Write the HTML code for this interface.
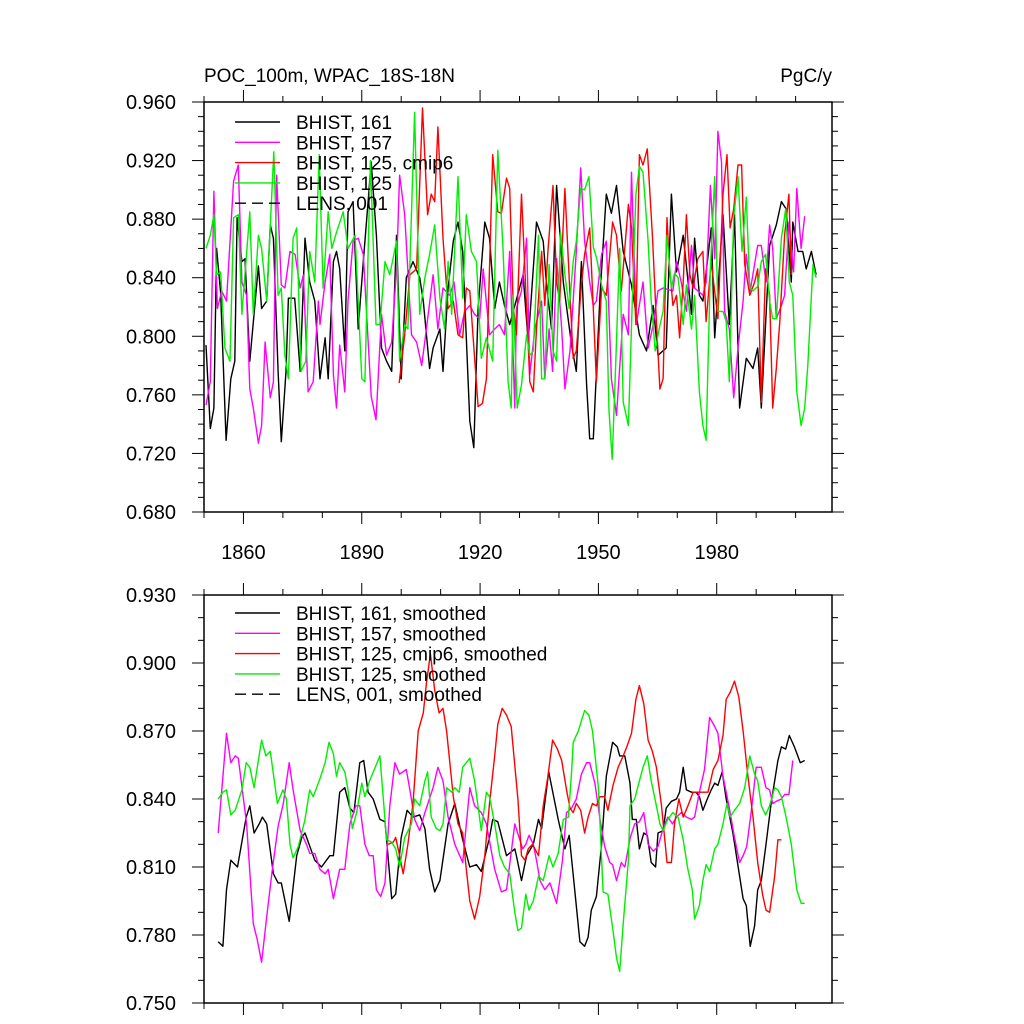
<!DOCTYPE html>
<html><head><meta charset="utf-8"><style>
html,body{margin:0;padding:0;background:#fff;}
svg{display:block;font-family:"Liberation Sans",Arial,sans-serif;}
</style></head><body>
<svg id="chart" width="1024" height="1024" viewBox="0 0 1024 1024"></svg>
<script>
// ---------- DATA ----------
const xTickYears = [1860, 1890, 1920, 1950, 1980];
const topYTicks = ["0.680","0.720","0.760","0.800","0.840","0.880","0.920","0.960"];
const botYTicks = ["0.750","0.780","0.810","0.840","0.870","0.900","0.930"];
const topLegend = ["BHIST, 161","BHIST, 157","BHIST, 125, cmip6","BHIST, 125","LENS, 001"];
const botLegend = ["BHIST, 161, smoothed","BHIST, 157, smoothed","BHIST, 125, cmip6, smoothed","BHIST, 125, smoothed","LENS, 001, smoothed"];

const topBlack = [[1850.5,0.794],[1851.6,0.737],[1852.5,0.751],[1853.2,0.860],[1854.2,0.830],[1855.6,0.729],[1856.8,0.771],[1857.8,0.783],[1858.4,0.881],[1859.6,0.851],[1860.4,0.853],[1861.6,0.783],[1863.8,0.848],[1864.6,0.819],[1865.9,0.824],[1866.8,0.876],[1867.6,0.867],[1868.8,0.776],[1869.6,0.728],[1870.8,0.776],[1871.4,0.826],[1873.0,0.826],[1874.4,0.776],[1875.6,0.867],[1876.8,0.837],[1878.1,0.824],[1879.4,0.771],[1880.7,0.799],[1881.5,0.771],[1882.8,0.851],[1883.6,0.858],[1884.4,0.846],[1885.7,0.790],[1886.5,0.885],[1887.8,0.892],[1889.1,0.805],[1890.4,0.851],[1891.6,0.892],[1892.4,0.919],[1893.7,0.869],[1895.0,0.792],[1896.3,0.783],[1897.6,0.776],[1898.8,0.869],[1900.0,0.771],[1901.3,0.840],[1903.0,0.851],[1904.7,0.840],[1905.6,0.824],[1907.2,0.778],[1908.1,0.792],[1909.8,0.805],[1910.6,0.776],[1911.9,0.833],[1913.2,0.865],[1914.4,0.878],[1915.6,0.858],[1917.4,0.742],[1918.4,0.724],[1919.5,0.819],[1921.2,0.878],[1922.4,0.867],[1923.7,0.819],[1924.9,0.837],[1926.2,0.821],[1927.5,0.808],[1930.9,0.842],[1932.2,0.796],[1934.3,0.878],[1936.0,0.865],[1936.8,0.837],[1938.1,0.805],[1939.4,0.903],[1941.1,0.837],[1943.2,0.794],[1944.4,0.776],[1945.7,0.851],[1947.0,0.767],[1947.8,0.730],[1948.7,0.730],[1950.4,0.828],[1952.0,0.897],[1953.3,0.884],[1954.6,0.903],[1956.3,0.858],[1958.4,0.835],[1960.4,0.801],[1962.2,0.790],[1963.9,0.821],[1965.1,0.787],[1967.2,0.792],[1968.5,0.897],[1969.8,0.844],[1971.5,0.869],[1973.6,0.815],[1974.4,0.867],[1975.6,0.828],[1976.5,0.824],[1978.6,0.874],[1979.5,0.799],[1981.6,0.883],[1983.2,0.808],[1984.5,0.883],[1985.8,0.751],[1987.5,0.785],[1989.2,0.778],[1990.4,0.792],[1991.3,0.751],[1993.4,0.862],[1995.1,0.876],[1996.4,0.892],[1997.6,0.887],[1998.9,0.837],[1999.3,0.878],[2000.6,0.858],[2001.8,0.858],[2002.7,0.846],[2004.0,0.858],[2005.2,0.842]];

const topMagenta = [[1850.5,0.753],[1851.6,0.769],[1852.5,0.899],[1853.4,0.819],[1854.5,0.831],[1855.7,0.824],[1857.5,0.906],[1858.7,0.917],[1859.6,0.837],[1860.8,0.828],[1861.6,0.764],[1862.5,0.751],[1863.8,0.727],[1864.6,0.739],[1865.5,0.796],[1866.8,0.758],[1867.6,0.769],[1868.4,0.910],[1869.6,0.835],[1870.5,0.833],[1871.8,0.858],[1873.1,0.856],[1874.4,0.833],[1875.2,0.842],[1876.4,0.762],[1877.7,0.769],[1879.0,0.824],[1879.4,0.808],[1880.7,0.837],[1881.9,0.856],[1882.8,0.774],[1883.6,0.751],[1884.4,0.794],[1885.7,0.762],[1886.5,0.824],[1887.8,0.865],[1889.1,0.867],[1890.4,0.856],[1892.4,0.759],[1893.6,0.743],[1895.0,0.815],[1896.3,0.787],[1897.6,0.796],[1898.8,0.846],[1899.6,0.910],[1900.9,0.883],[1902.6,0.801],[1903.9,0.796],[1905.2,0.780],[1906.4,0.805],[1908.1,0.842],[1909.3,0.805],[1910.6,0.833],[1912.3,0.828],[1913.4,0.837],[1914.8,0.801],[1916.1,0.817],[1917.4,0.821],[1918.6,0.815],[1919.9,0.812],[1920.8,0.846],[1922.4,0.801],[1923.7,0.805],[1924.9,0.808],[1926.2,0.801],[1927.5,0.858],[1928.8,0.751],[1929.2,0.819],[1930.5,0.831],[1931.8,0.867],[1932.6,0.774],[1933.9,0.805],[1935.6,0.824],[1936.4,0.771],[1937.5,0.805],[1938.4,0.776],[1939.4,0.853],[1940.7,0.805],[1941.5,0.764],[1942.8,0.790],[1944.4,0.858],[1945.5,0.915],[1946.5,0.865],[1947.8,0.837],[1948.7,0.821],[1949.5,0.824],[1950.8,0.856],[1952.0,0.865],[1953.3,0.771],[1954.6,0.746],[1956.3,0.815],[1957.6,0.801],[1958.4,0.912],[1959.6,0.808],[1961.3,0.837],[1962.6,0.792],[1963.9,0.808],[1965.1,0.831],[1966.4,0.833],[1968.9,0.831],[1969.8,0.851],[1971.0,0.837],[1972.3,0.817],[1973.6,0.862],[1974.4,0.833],[1976.5,0.828],[1977.3,0.837],[1978.4,0.903],[1979.5,0.853],[1980.3,0.940],[1981.2,0.919],[1982.0,0.817],[1983.2,0.805],[1984.3,0.758],[1985.4,0.792],[1986.7,0.824],[1987.5,0.856],[1988.5,0.831],[1990.4,0.862],[1991.3,0.862],[1992.5,0.837],[1993.4,0.876],[1994.2,0.860],[1995.1,0.812],[1996.4,0.821],[1997.2,0.828],[1998.3,0.878],[1999.5,0.844],[2000.3,0.901],[2001.4,0.860],[2002.3,0.882]];

const topRed = [[1899.5,0.768],[1900.9,0.801],[1902.2,0.842],[1903.9,0.846],[1905.4,0.956],[1906.7,0.883],[1907.6,0.897],[1908.5,0.892],[1909.3,0.943],[1910.6,0.867],[1911.9,0.819],[1913.2,0.824],[1914.4,0.801],[1915.6,0.799],[1916.5,0.833],[1917.4,0.831],[1919.5,0.752],[1920.6,0.754],[1921.6,0.771],[1923.2,0.924],[1924.5,0.885],[1925.4,0.884],[1926.7,0.908],[1927.5,0.901],[1928.4,0.821],[1929.2,0.801],[1930.5,0.897],[1931.8,0.819],[1932.6,0.769],[1933.5,0.762],[1934.3,0.805],[1935.6,0.858],[1936.4,0.821],[1937.2,0.858],[1938.5,0.903],[1939.4,0.837],[1940.2,0.824],[1941.5,0.901],[1942.8,0.828],[1943.6,0.785],[1944.4,0.790],[1945.7,0.835],[1946.5,0.856],[1947.8,0.874],[1948.7,0.819],[1949.5,0.769],[1950.8,0.833],[1952.0,0.828],[1953.6,0.878],[1954.6,0.869],[1955.8,0.831],[1957.6,0.890],[1958.4,0.874],[1959.5,0.808],[1960.4,0.924],[1961.3,0.917],[1962.4,0.928],[1963.7,0.869],[1964.7,0.810],[1965.6,0.764],[1966.4,0.771],[1967.4,0.881],[1968.0,0.849],[1968.9,0.821],[1969.8,0.828],[1970.6,0.799],[1971.5,0.837],[1972.3,0.883],[1973.2,0.842],[1974.0,0.833],[1975.2,0.853],[1976.5,0.858],[1977.3,0.810],[1978.6,0.851],[1980.3,0.812],[1981.6,0.897],[1982.6,0.924],[1983.4,0.874],[1984.3,0.887],[1985.4,0.917],[1986.3,0.917],[1987.1,0.849],[1988.4,0.828],[1989.6,0.837],[1990.4,0.846],[1991.3,0.755],[1992.4,0.846],[1993.4,0.828],[1994.2,0.751],[1995.1,0.778],[1996.0,0.810],[1997.2,0.869],[1998.3,0.897],[1998.9,0.842]];

const topGreen = [[1850.5,0.860],[1851.6,0.869],[1852.5,0.883],[1853.2,0.842],[1854.2,0.844],[1855.3,0.792],[1856.6,0.783],[1857.5,0.881],[1858.7,0.883],[1859.6,0.815],[1861.6,0.885],[1862.5,0.815],[1863.8,0.869],[1864.6,0.860],[1865.9,0.824],[1867.7,0.926],[1868.8,0.828],[1869.6,0.833],[1870.5,0.787],[1871.4,0.771],[1872.6,0.867],[1873.5,0.874],[1874.6,0.776],[1875.8,0.783],[1876.8,0.858],[1878.1,0.837],[1879.2,0.924],[1880.2,0.833],[1881.5,0.885],[1882.4,0.860],[1883.6,0.871],[1885.3,0.885],[1886.5,0.860],[1888.3,0.869],[1890.0,0.771],[1890.8,0.769],[1892.2,0.920],[1893.6,0.808],[1894.6,0.808],[1895.9,0.851],[1897.1,0.842],[1898.8,0.865],[1899.6,0.783],[1900.9,0.808],[1901.7,0.805],[1903.4,0.953],[1904.7,0.815],[1906.0,0.840],[1907.2,0.856],[1908.5,0.876],[1909.8,0.826],[1911.0,0.805],[1911.9,0.851],[1912.8,0.815],[1914.4,0.909],[1915.6,0.826],[1916.5,0.883],[1917.8,0.858],[1919.1,0.851],[1920.3,0.785],[1921.6,0.799],[1923.2,0.783],[1924.5,0.927],[1925.8,0.860],[1927.1,0.769],[1927.9,0.751],[1928.4,0.828],[1929.4,0.751],[1930.5,0.767],[1931.8,0.801],[1932.6,0.787],[1933.5,0.790],[1934.8,0.869],[1935.6,0.771],[1936.4,0.771],[1937.5,0.849],[1938.5,0.790],[1939.4,0.783],[1940.4,0.871],[1941.5,0.842],[1942.6,0.819],[1943.6,0.851],[1944.4,0.865],[1945.5,0.901],[1946.5,0.900],[1947.6,0.909],[1948.7,0.861],[1949.6,0.853],[1950.8,0.835],[1952.0,0.824],[1952.7,0.749],[1953.5,0.716],[1954.4,0.783],[1955.4,0.860],[1956.3,0.755],[1957.6,0.739],[1958.6,0.824],[1959.5,0.897],[1960.4,0.916],[1961.3,0.912],[1962.6,0.865],[1963.4,0.824],[1964.4,0.790],[1965.4,0.805],[1966.4,0.817],[1967.4,0.869],[1968.5,0.833],[1969.3,0.843],[1970.2,0.840],[1971.5,0.808],[1972.3,0.835],[1973.6,0.805],[1974.4,0.828],[1975.6,0.762],[1976.5,0.739],[1977.3,0.729],[1978.4,0.846],[1979.5,0.909],[1980.3,0.817],[1981.6,0.817],[1982.4,0.810],[1983.2,0.769],[1984.3,0.881],[1985.4,0.909],[1986.4,0.858],[1987.5,0.895],[1988.4,0.833],[1989.2,0.831],[1990.4,0.834],[1991.3,0.851],[1992.4,0.856],[1993.4,0.824],[1994.2,0.812],[1995.1,0.812],[1996.4,0.867],[1997.5,0.887],[1998.4,0.837],[1999.3,0.828],[2000.3,0.762],[2001.4,0.739],[2002.3,0.751],[2003.1,0.780],[2004.4,0.849],[2005.2,0.840]];

const botBlack = [[1853.6,0.777],[1854.8,0.775],[1855.7,0.800],[1856.8,0.813],[1858.5,0.810],[1860.7,0.832],[1861.6,0.837],[1862.7,0.825],[1864.0,0.829],[1864.8,0.832],[1865.9,0.829],[1867.6,0.807],[1868.8,0.803],[1869.6,0.803],[1871.6,0.786],[1873.5,0.815],[1874.8,0.823],[1875.6,0.825],[1878.1,0.813],[1879.8,0.810],[1881.9,0.815],[1882.8,0.815],[1884.4,0.843],[1885.7,0.845],[1887.0,0.836],[1888.0,0.834],[1889.5,0.856],[1890.5,0.857],[1891.6,0.843],[1892.9,0.840],[1894.6,0.831],[1895.9,0.830],[1897.6,0.796],[1898.6,0.798],[1900.0,0.823],[1901.5,0.835],[1903.0,0.832],[1904.7,0.833],[1906.0,0.827],[1907.2,0.809],[1908.5,0.799],[1909.8,0.804],[1911.9,0.829],[1913.6,0.838],[1915.6,0.822],[1917.4,0.810],[1919.1,0.811],[1920.3,0.808],[1922.4,0.823],[1923.2,0.831],[1924.5,0.830],[1926.7,0.815],[1928.8,0.818],[1929.2,0.815],[1930.5,0.804],[1931.8,0.815],[1933.5,0.820],[1934.8,0.831],[1935.6,0.827],[1937.4,0.852],[1939.8,0.831],[1941.5,0.818],[1942.6,0.824],[1944.0,0.800],[1945.3,0.777],[1946.5,0.775],[1947.4,0.779],[1948.2,0.791],[1949.5,0.797],[1950.8,0.820],[1952.0,0.850],[1953.6,0.865],[1954.8,0.863],[1955.4,0.859],[1956.7,0.859],[1958.0,0.847],[1958.6,0.831],[1959.6,0.831],[1960.4,0.818],[1961.5,0.825],[1962.4,0.824],[1963.4,0.812],[1964.5,0.810],[1965.1,0.825],[1966.4,0.826],[1967.2,0.836],[1968.5,0.839],[1969.8,0.840],[1970.6,0.843],[1971.5,0.854],[1972.3,0.844],[1973.6,0.843],[1974.8,0.843],[1975.6,0.841],[1976.5,0.835],[1977.6,0.840],[1978.6,0.844],[1979.5,0.847],[1980.3,0.846],[1981.4,0.852],[1982.4,0.840],[1984.1,0.825],[1985.8,0.806],[1986.7,0.796],[1987.5,0.793],[1988.5,0.775],[1989.6,0.784],[1990.4,0.800],[1991.3,0.804],[1992.5,0.820],[1993.8,0.838],[1995.5,0.857],[1996.4,0.863],[1997.5,0.862],[1998.4,0.868],[1999.7,0.863],[2001.2,0.856],[2002.3,0.857]];

const botMagenta = [[1853.6,0.825],[1855.7,0.869],[1856.8,0.856],[1857.9,0.859],[1858.7,0.858],[1860.8,0.829],[1862.5,0.785],[1863.5,0.778],[1864.6,0.768],[1865.9,0.788],[1867.2,0.807],[1868.8,0.828],[1870.1,0.838],[1871.6,0.856],[1872.6,0.844],[1874.4,0.826],[1876.0,0.820],[1876.8,0.816],[1878.1,0.816],[1879.4,0.809],[1880.7,0.807],[1881.5,0.809],[1882.8,0.796],[1884.4,0.809],[1885.7,0.809],[1887.0,0.829],[1888.5,0.837],[1889.5,0.837],[1890.8,0.820],[1891.9,0.815],[1892.9,0.815],[1893.7,0.800],[1894.8,0.797],[1895.9,0.803],[1897.1,0.837],[1898.4,0.856],[1899.6,0.851],[1901.3,0.853],[1902.2,0.844],[1903.4,0.831],[1904.7,0.826],[1906.0,0.834],[1908.1,0.845],[1909.3,0.854],[1910.6,0.848],[1911.9,0.832],[1913.6,0.820],[1915.6,0.812],[1917.4,0.845],[1918.6,0.837],[1920.3,0.834],[1921.6,0.829],[1923.7,0.809],[1925.4,0.799],[1926.7,0.800],[1928.8,0.829],[1930.8,0.818],[1931.6,0.820],[1932.4,0.824],[1933.5,0.820],[1934.3,0.813],[1935.2,0.804],[1936.4,0.800],[1937.7,0.803],[1939.4,0.794],[1940.9,0.813],[1941.9,0.834],[1943.2,0.836],[1944.4,0.840],[1945.7,0.851],[1947.0,0.856],[1947.8,0.856],[1949.1,0.847],[1950.4,0.831],[1951.6,0.819],[1952.9,0.812],[1953.6,0.811],[1954.6,0.804],[1955.8,0.812],[1956.7,0.810],[1958.1,0.823],[1959.2,0.829],[1960.4,0.830],[1961.5,0.834],[1962.6,0.820],[1963.9,0.817],[1965.1,0.819],[1966.4,0.827],[1967.6,0.832],[1968.8,0.829],[1969.8,0.832],[1971.0,0.834],[1972.3,0.832],[1973.6,0.831],[1974.4,0.832],[1975.6,0.843],[1976.9,0.853],[1978.2,0.876],[1979.5,0.872],[1980.3,0.869],[1981.6,0.850],[1983.1,0.837],[1984.5,0.823],[1985.8,0.812],[1986.7,0.815],[1987.6,0.819],[1988.8,0.835],[1990.0,0.854],[1991.3,0.854],[1992.5,0.845],[1993.4,0.844],[1994.2,0.838],[1995.1,0.839],[1996.4,0.840],[1997.2,0.842],[1998.3,0.842],[1999.3,0.857]];

const botRed = [[1896.7,0.820],[1898.0,0.821],[1898.6,0.823],[1899.6,0.815],[1900.5,0.807],[1901.7,0.820],[1903.0,0.838],[1904.3,0.870],[1905.6,0.878],[1906.4,0.891],[1907.4,0.904],[1908.5,0.888],[1909.6,0.878],[1910.6,0.880],[1911.5,0.870],[1913.2,0.841],[1914.4,0.829],[1915.6,0.825],[1916.5,0.809],[1917.4,0.795],[1918.6,0.787],[1919.9,0.797],[1921.2,0.815],[1922.4,0.838],[1923.7,0.859],[1924.5,0.873],[1925.6,0.880],[1926.7,0.877],[1927.9,0.872],[1929.6,0.840],[1930.5,0.815],[1931.4,0.813],[1932.2,0.818],[1933.3,0.820],[1934.8,0.815],[1936.0,0.837],[1937.2,0.850],[1938.4,0.866],[1939.6,0.862],[1940.7,0.857],[1941.9,0.844],[1942.8,0.836],[1943.6,0.834],[1944.4,0.838],[1945.5,0.835],[1946.5,0.825],[1947.4,0.832],[1948.5,0.838],[1949.5,0.837],[1950.4,0.841],[1951.6,0.841],[1952.4,0.835],[1953.7,0.846],[1955.0,0.854],[1956.3,0.859],[1957.2,0.863],[1958.4,0.869],[1959.5,0.884],[1960.4,0.890],[1961.5,0.882],[1962.6,0.866],[1963.7,0.861],[1964.7,0.854],[1966.0,0.837],[1967.4,0.812],[1968.5,0.812],[1969.3,0.829],[1970.4,0.840],[1971.5,0.832],[1972.7,0.837],[1974.0,0.843],[1975.2,0.843],[1976.5,0.843],[1977.8,0.843],[1979.1,0.853],[1980.3,0.857],[1981.6,0.868],[1982.4,0.884],[1983.4,0.887],[1984.5,0.892],[1985.6,0.885],[1986.7,0.870],[1987.9,0.850],[1989.2,0.832],[1990.4,0.812],[1991.6,0.798],[1992.5,0.791],[1993.4,0.790],[1994.7,0.806],[1995.5,0.822],[1996.4,0.822]];

const botGreen = [[1853.6,0.840],[1854.8,0.843],[1855.7,0.844],[1856.8,0.833],[1857.9,0.835],[1859.6,0.844],[1860.7,0.856],[1861.6,0.854],[1862.7,0.845],[1864.6,0.866],[1865.7,0.859],[1866.8,0.861],[1868.6,0.838],[1870.0,0.844],[1870.9,0.840],[1871.8,0.820],[1872.6,0.814],[1873.9,0.819],[1875.6,0.831],[1876.8,0.844],[1877.7,0.841],[1879.4,0.849],[1880.7,0.856],[1881.7,0.865],[1882.8,0.860],[1883.6,0.850],[1884.4,0.856],[1885.7,0.852],[1886.5,0.844],[1887.6,0.827],[1888.7,0.834],[1890.0,0.847],[1890.8,0.841],[1892.0,0.848],[1894.6,0.859],[1896.3,0.822],[1897.6,0.821],[1898.6,0.818],[1899.6,0.810],[1900.9,0.823],[1902.6,0.829],[1903.4,0.840],[1904.7,0.837],[1906.0,0.848],[1906.7,0.852],[1907.6,0.832],[1908.9,0.827],[1909.8,0.826],[1910.6,0.829],[1911.5,0.845],[1912.8,0.843],[1913.6,0.845],[1914.7,0.843],[1915.6,0.854],[1917.4,0.858],[1918.6,0.848],[1920.3,0.826],[1921.6,0.843],[1922.4,0.841],[1923.7,0.829],[1925.0,0.815],[1926.2,0.810],[1927.5,0.807],[1928.8,0.790],[1929.6,0.782],[1930.5,0.783],[1931.6,0.798],[1932.4,0.791],[1933.5,0.795],[1934.8,0.806],[1936.0,0.804],[1937.5,0.815],[1938.5,0.810],[1939.8,0.816],[1941.1,0.831],[1942.4,0.832],[1943.2,0.852],[1943.6,0.865],[1944.9,0.870],[1946.5,0.879],[1947.6,0.877],[1948.5,0.870],[1950.0,0.845],[1951.2,0.799],[1952.4,0.798],[1953.7,0.782],[1954.6,0.770],[1955.4,0.764],[1956.3,0.785],[1957.6,0.813],[1958.0,0.837],[1959.2,0.840],[1960.4,0.848],[1961.3,0.854],[1962.4,0.859],[1963.4,0.848],[1964.7,0.837],[1965.6,0.829],[1966.4,0.826],[1967.6,0.831],[1968.9,0.834],[1970.2,0.832],[1971.5,0.822],[1972.7,0.809],[1973.8,0.800],[1974.4,0.787],[1975.6,0.793],[1976.5,0.804],[1977.3,0.811],[1978.2,0.808],[1979.5,0.818],[1980.3,0.820],[1981.6,0.829],[1982.6,0.838],[1983.4,0.832],[1984.5,0.835],[1985.8,0.838],[1987.1,0.845],[1988.4,0.859],[1989.6,0.851],[1990.4,0.848],[1991.3,0.837],[1992.4,0.833],[1993.4,0.837],[1994.7,0.845],[1995.5,0.844],[1996.4,0.841],[1997.6,0.832],[1998.9,0.820],[2000.3,0.800],[2001.4,0.794],[2002.3,0.794]];

// ---------- RENDER ----------
const NS = "http://www.w3.org/2000/svg";
const svg = document.getElementById("chart");
const X0 = 204, X1 = 832, YEAR0 = 1850, PXY = 3.944;
function xScale(yr){ return X0 + (yr - YEAR0) * PXY; }
function mk(tag, attrs, parent){
  const e = document.createElementNS(NS, tag);
  for (const k in attrs) e.setAttribute(k, attrs[k]);
  (parent || svg).appendChild(e);
  return e;
}
const panels = [
  {key:"top", top:102, bottom:512, vmin:0.68, vmax:0.96, ticks:topYTicks, minor:0.01,
   series:[topBlack, topMagenta, topRed, topGreen], legend:topLegend, legY:122, xlabels:true},
  {key:"bottom", top:595, bottom:1003, vmin:0.75, vmax:0.93, ticks:botYTicks, minor:0.01,
   series:[botBlack, botMagenta, botRed, botGreen], legend:botLegend, legY:613, xlabels:false}
];
const colors = ["#000000","#ff00ff","#ff0000","#00ee00"];
const seriesNames = ["bhist-161","bhist-157","bhist-125-cmip6","bhist-125"];

panels.forEach(function(p){
  const g = mk("g", {});
  
  
  const yScale = function(v){ return p.bottom - (v - p.vmin) / (p.vmax - p.vmin) * (p.bottom - p.top); };
  // series
  p.series.forEach(function(s, i){
    const d = s.map(function(pt, j){ return (j ? "L" : "M") + xScale(pt[0]).toFixed(1) + " " + yScale(pt[1]).toFixed(1); }).join("");
    const path = mk("path", {d:d, fill:"none", stroke:colors[i], "stroke-width":"1.4", "stroke-linejoin":"round"}, g);
    
    
  });
  // frame
  const frame = mk("rect", {x:X0, y:p.top, width:X1-X0, height:p.bottom-p.top, fill:"none", stroke:"#000", "stroke-width":"1.5"}, g);
  
  
  // y ticks
  const nMinor = Math.round((p.vmax - p.vmin) / p.minor);
  for (let k = 0; k <= nMinor; k++){
    const v = p.vmin + k * p.minor;
    const y = yScale(v);
    const isMajor = p.ticks.some(function(t){ return Math.abs(parseFloat(t) - v) < 1e-6; });
    const len = isMajor ? 12 : 6;
    mk("line", {x1:X0-len, y1:y, x2:X0, y2:y, stroke:"#000", "stroke-width":"1"}, g);
    mk("line", {x1:X1, y1:y, x2:X1+len, y2:y, stroke:"#000", "stroke-width":"1"}, g);
  }
  p.ticks.forEach(function(t){
    const lab = mk("text", {x:176, y:yScale(parseFloat(t)) + 7, "text-anchor":"end", "font-size":"20"}, g);
    lab.textContent = t;
    
    
  });
  // x ticks (every 10 years, major every 30)
  for (let yr = 1850; yr <= 2009; yr += 10){
    const x = xScale(yr);
    const isMajor = xTickYears.indexOf(yr) >= 0;
    const len = isMajor ? 12 : 6;
    mk("line", {x1:x, y1:p.top-len, x2:x, y2:p.top, stroke:"#000", "stroke-width":"1"}, g);
    mk("line", {x1:x, y1:p.bottom, x2:x, y2:p.bottom+len, stroke:"#000", "stroke-width":"1"}, g);
  }
  if (p.xlabels){
    xTickYears.forEach(function(yr){
      const lab = mk("text", {x:xScale(yr), y:p.bottom + 47, "text-anchor":"middle", "font-size":"20"}, g);
      lab.textContent = yr;
      
      
    });
  }
  // legend
  p.legend.forEach(function(txt, i){
    const y = p.legY + i * 20.3;
    const ln = mk("line", {x1:235, y1:y, x2:280, y2:y, stroke:i < 4 ? colors[i] : "#000", "stroke-width":"1.4", "stroke-dasharray": i === 4 ? "11,6" : "none"}, g);
    
    
    const t = mk("text", {x:296, y:y + 7, "font-size":"19"}, g);
    t.textContent = txt;
    
    
  });
});
// titles
const title = mk("text", {x:204, y:82, "font-size":"19"});
title.textContent = "POC_100m, WPAC_18S-18N";


const units = mk("text", {x:832, y:82, "font-size":"19", "text-anchor":"end"});
units.textContent = "PgC/y";


</script>
</body></html>
